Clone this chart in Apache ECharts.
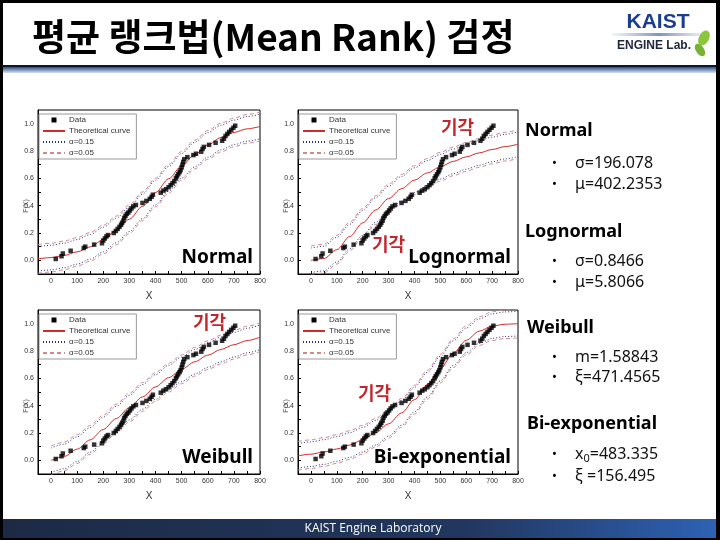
<!DOCTYPE html>
<html><head><meta charset="utf-8">
<script src="https://cdn.jsdelivr.net/npm/echarts@6/dist/echarts.min.js"></script>
<style>html,body{margin:0;padding:0;background:#fff}#c{width:720px;height:540px}</style>
</head><body><div id="c"></div><script>
// ---------------- data ----------------
const xGrid = [-50,0,50,100,150,200,250,300,350,400,450,500,550,600,650,700,750,800];

const dataX = [18,40,45,75,125,131,165,195,200,206,212,218,240,248,255,262,268,272,277,280,285,290,296,302,308,315,325,350,365,378,385,390,420,430,440,450,458,465,472,478,482,487,492,496,500,503,506,510,522,545,555,575,580,585,605,630,655,662,668,675,682,690,698,705];
const dataY = [0.010,0.030,0.050,0.070,0.090,0.100,0.115,0.125,0.145,0.160,0.175,0.185,0.200,0.215,0.230,0.245,0.260,0.275,0.290,0.310,0.325,0.340,0.350,0.365,0.380,0.395,0.405,0.420,0.435,0.450,0.465,0.480,0.495,0.510,0.520,0.535,0.550,0.565,0.580,0.600,0.615,0.630,0.645,0.660,0.680,0.700,0.720,0.740,0.755,0.770,0.780,0.795,0.815,0.830,0.845,0.860,0.875,0.890,0.910,0.925,0.940,0.955,0.970,0.985];

const normalCurve = [0.011,0.020,0.036,0.062,0.099,0.152,0.219,0.301,0.395,0.496,0.596,0.691,0.774,0.844,0.898,0.936,0.962,0.979];
const normalUp15  = [0.101,0.110,0.126,0.152,0.189,0.242,0.309,0.391,0.485,0.586,0.686,0.781,0.864,0.934,0.988,1.026,1.052,1.069];
const normalLo15  = [-0.079,-0.070,-0.054,-0.028,0.009,0.062,0.129,0.211,0.305,0.406,0.506,0.601,0.684,0.754,0.808,0.846,0.872,0.889];
const normalUp05  = [0.116,0.125,0.141,0.167,0.204,0.257,0.324,0.406,0.500,0.601,0.701,0.796,0.879,0.949,1.003,1.041,1.067,1.084];
const normalLo05  = [-0.094,-0.085,-0.069,-0.043,-0.006,0.047,0.114,0.196,0.290,0.391,0.491,0.586,0.669,0.739,0.793,0.831,0.857,0.874];

const lognCurve = [null,0.000,0.013,0.078,0.174,0.274,0.368,0.452,0.524,0.587,0.640,0.685,0.724,0.757,0.786,0.811,0.832,0.850];
const lognUp15  = [null,0.090,0.103,0.168,0.264,0.364,0.458,0.542,0.614,0.677,0.730,0.775,0.814,0.847,0.876,0.901,0.922,0.940];
const lognLo15  = [null,-0.090,-0.077,-0.012,0.084,0.184,0.278,0.362,0.434,0.497,0.550,0.595,0.634,0.667,0.696,0.721,0.742,0.760];
const lognUp05  = [null,0.105,0.118,0.183,0.279,0.379,0.473,0.557,0.629,0.692,0.745,0.790,0.829,0.862,0.891,0.916,0.937,0.955];
const lognLo05  = [null,-0.105,-0.092,-0.027,0.069,0.169,0.263,0.347,0.419,0.482,0.535,0.580,0.619,0.652,0.681,0.706,0.727,0.745];

const weibCurve = [null,0.000,0.028,0.082,0.150,0.226,0.306,0.386,0.464,0.537,0.605,0.666,0.721,0.769,0.811,0.846,0.876,0.901];
const weibUp15  = [null,0.090,0.118,0.172,0.240,0.316,0.396,0.476,0.554,0.627,0.695,0.756,0.811,0.859,0.901,0.936,0.966,0.991];
const weibLo15  = [null,-0.090,-0.062,-0.008,0.060,0.136,0.216,0.296,0.374,0.447,0.515,0.576,0.631,0.679,0.721,0.756,0.786,0.811];
const weibUp05  = [null,0.105,0.133,0.187,0.255,0.331,0.411,0.491,0.569,0.642,0.710,0.771,0.826,0.874,0.916,0.951,0.981,1.006];
const weibLo05  = [null,-0.105,-0.077,-0.023,0.045,0.121,0.201,0.281,0.359,0.432,0.500,0.561,0.616,0.664,0.706,0.741,0.771,0.796];

const biexCurve = [0.033,0.045,0.061,0.083,0.112,0.151,0.202,0.267,0.347,0.444,0.554,0.671,0.784,0.878,0.945,0.982,0.996,1.000];
const biexUp15  = [0.123,0.135,0.151,0.173,0.202,0.241,0.292,0.357,0.437,0.534,0.644,0.761,0.874,0.968,1.035,1.072,1.086,1.090];
const biexLo15  = [-0.057,-0.045,-0.029,-0.007,0.022,0.061,0.112,0.177,0.257,0.354,0.464,0.581,0.694,0.788,0.855,0.892,0.906,0.910];
const biexUp05  = [0.138,0.150,0.166,0.188,0.217,0.256,0.307,0.372,0.452,0.549,0.659,0.776,0.889,0.983,1.050,1.087,1.101,1.105];
const biexLo05  = [-0.072,-0.060,-0.044,-0.022,0.007,0.046,0.097,0.162,0.242,0.339,0.449,0.566,0.679,0.773,0.840,0.877,0.891,0.895];

const xTickLabels = [0,100,200,300,400,500,600,700,800];
const xMinorTicks = [0,50,100,150,200,250,300,350,400,450,500,550,600,650,700,750,800];
const yTickLabels = [0,0.2,0.4,0.6,0.8,1.0];
const yMinorTicks = [0,0.1,0.2,0.3,0.4,0.5,0.6,0.7,0.8,0.9,1.0];
const seriesNames = ['Data','Theoretical curve','α=0.15','α=0.05'];
const plotLabels = ['Normal','Lognormal','Weibull','Bi-exponential'];

const curveSets = [
  [normalCurve, normalUp15, normalLo15, normalUp05, normalLo05],
  [lognCurve, lognUp15, lognLo15, lognUp05, lognLo05],
  [weibCurve, weibUp15, weibLo15, weibUp05, weibLo05],
  [biexCurve, biexUp15, biexLo15, biexUp05, biexLo05]
];

// ---------------- layout ----------------
const grids = [
  {left:38, top:110, width:222, height:164},
  {left:298, top:110, width:220, height:164},
  {left:38, top:310, width:222, height:164},
  {left:298, top:310, width:220, height:164}
];
const FONT_AX = '"Liberation Sans", Arial, sans-serif';
const zip = (xs, ys) => xs.map((x, i) => [x, ys[i]]);

const series = [];
const xAxes = [], yAxes = [], legends = [];
grids.forEach((g, i) => {
  xAxes.push({
    gridIndex:i, type:'value', min:-50, max:800,
    axisLine:{show:true, onZero:false, lineStyle:{color:'#000', width:1}},
    axisTick:{show:true, inside:true, length:3, customValues:xMinorTicks, lineStyle:{color:'#000'}},
    axisLabel:{customValues:xTickLabels, fontSize:7, color:'#333', margin:4, fontFamily:FONT_AX},
    splitLine:{show:false},
    name:'X', nameLocation:'middle', nameGap:17, nameMoveOverlap:false,
    nameTextStyle:{fontSize:10, color:'#333', fontFamily:FONT_AX}
  });
  yAxes.push({
    gridIndex:i, type:'value', min:-0.1, max:1.1,
    axisLine:{show:true, onZero:false, lineStyle:{color:'#000', width:1}},
    axisTick:{show:true, inside:true, length:3, customValues:yMinorTicks, lineStyle:{color:'#000'}},
    axisLabel:{customValues:yTickLabels, fontSize:7, color:'#333', margin:4, fontFamily:FONT_AX,
      formatter:v => v.toFixed(1)},
    splitLine:{show:false},
    name:'F(X)', nameLocation:'middle', nameGap:8, nameRotate:90, nameMoveOverlap:false,
    nameTextStyle:{fontSize:7, color:'#555', fontFamily:FONT_AX, padding:[0,28,0,0]}
  });
  legends.push({
    data:[{name:'Data', icon:'path://M0,0L10,0L10,10L0,10Z', itemStyle:{opacity:1}},
          'Theoretical curve', 'α=0.15', 'α=0.05'],
    orient:'vertical', left:g.left + 1, top:g.top + 4,
    itemWidth:22, itemHeight:5, itemGap:3, symbolKeepAspect:true,
    itemStyle:{opacity:0},
    padding:[2,6,2,3], borderColor:'#9a9a9a', borderWidth:1, backgroundColor:'#fff',
    textStyle:{fontSize:8, color:'#333', fontFamily:FONT_AX, padding:[0,0,0,-1]},
    selectedMode:false
  });
  const cs = curveSets[i];
  const lineBase = {type:'line', xAxisIndex:i, yAxisIndex:i, symbol:'none', showSymbol:false,
    smooth:0.3, smoothMonotone:'x', connectNulls:false, clip:true, silent:true};
  series.push(Object.assign({}, lineBase, {name:'α=0.15', data:zip(xGrid, cs[1]),
    lineStyle:{color:'#2e2e80', width:1, type:[1,2]}, itemStyle:{color:'#2e2e80'}, z:2}));
  series.push(Object.assign({}, lineBase, {name:'α=0.15', data:zip(xGrid, cs[2]),
    lineStyle:{color:'#2e2e80', width:1, type:[1,2]}, itemStyle:{color:'#2e2e80'}, z:2}));
  series.push(Object.assign({}, lineBase, {name:'α=0.05', data:zip(xGrid, cs[3]),
    lineStyle:{color:'#cf8a8a', width:1, type:[4,3]}, itemStyle:{color:'#cf8a8a'}, z:2}));
  series.push(Object.assign({}, lineBase, {name:'α=0.05', data:zip(xGrid, cs[4]),
    lineStyle:{color:'#cf8a8a', width:1, type:[4,3]}, itemStyle:{color:'#cf8a8a'}, z:2}));
  series.push(Object.assign({}, lineBase, {name:'Theoretical curve', data:zip(xGrid, cs[0]),
    lineStyle:{color:'#d22a2a', width:1}, itemStyle:{color:'#d22a2a'}, z:3}));
  series.push({type:'scatter', name:'Data', xAxisIndex:i, yAxisIndex:i, data:zip(dataX, dataY),
    symbol:'rect', symbolSize:4.5, itemStyle:{color:'#000'}, z:5, silent:true});
});

// ---------------- slide decorations ----------------
function txt(text, x, y, font, fill, align, extra) {
  return {type:'text', x:x, y:y, z:100,
    style:Object.assign({text:text, font:font, fill:fill, align:align || 'left', verticalAlign:'middle',
      textAlign:align || 'left', textVerticalAlign:'middle'}, (extra || {}))};
}
const KR = '"Noto Sans CJK KR", "Noto Sans", sans-serif';
const SANS = '"Noto Sans", "Open Sans", sans-serif';
const NARROW = '"Liberation Sans Narrow", "Liberation Sans", sans-serif';
const graphics = [
  // black frame
  {type:'rect', shape:{x:0, y:0, width:720, height:3}, style:{fill:'#000'}, z:200},
  {type:'rect', shape:{x:0, y:0, width:3, height:540}, style:{fill:'#000'}, z:200},
  {type:'rect', shape:{x:716, y:0, width:4, height:540}, style:{fill:'#000'}, z:200},
  {type:'rect', shape:{x:0, y:538, width:720, height:2}, style:{fill:'#000'}, z:200},
  // header divider
  {type:'rect', shape:{x:3, y:65, width:713, height:2}, style:{fill:'#0b1633'}, z:50},
  {type:'rect', shape:{x:3, y:67, width:713, height:6}, z:50,
    style:{fill:{type:'linear', x:0, y:0, x2:0, y2:1, colorStops:[{offset:0, color:'#2c4f86'},{offset:1, color:'#d6e0ef'}]}}},
  // title
  txt('평균 랭크법(Mean Rank) 검정', 32, 37, 'bold 37px ' + KR, '#000'),
  // logo
  txt('KAIST', 658, 22, 'bold 21px ' + NARROW, '#1b3d8f', 'center'),
  {type:'rect', shape:{x:612, y:33, width:94, height:3}, z:50,
    style:{fill:{type:'linear', x:0, y:0, x2:1, y2:0, colorStops:[{offset:0, color:'rgba(140,160,200,0.1)'},{offset:0.5, color:'#7d93c0'},{offset:1, color:'rgba(140,160,200,0.1)'}]}}},
  txt('ENGINE Lab.', 654, 46, 'bold 12px ' + NARROW, '#1d2540', 'center'),
  {type:'ellipse', shape:{cx:704, cy:38, rx:5, ry:8}, rotation:-0.5, originX:704, originY:38, style:{fill:'#8cc63e'}, z:60},
  {type:'ellipse', shape:{cx:700, cy:50, rx:4, ry:7}, rotation:0.6, originX:700, originY:50, style:{fill:'#76b332'}, z:60},
  // plot overlay labels
  txt(plotLabels[0], 253, 258, 'bold 19px ' + SANS, '#000', 'right'),
  txt(plotLabels[1], 511, 258, 'bold 19px ' + SANS, '#000', 'right'),
  txt(plotLabels[2], 253, 458, 'bold 19px ' + SANS, '#000', 'right'),
  txt(plotLabels[3], 511, 458, 'bold 19px ' + SANS, '#000', 'right'),
  txt('기각', 441, 127, 'bold 18px ' + KR, '#c1272d'),
  txt('기각', 372, 244, 'bold 18px ' + KR, '#c1272d'),
  txt('기각', 193, 322, 'bold 18px ' + KR, '#c1272d'),
  txt('기각', 358, 393, 'bold 18px ' + KR, '#c1272d'),
  // right parameter panel
  txt('Normal', 525, 131, 'bold 18px ' + SANS, '#000'),
  txt('•', 552, 163, '13px ' + SANS, '#000'), txt('σ=196.078', 575, 163, '16px ' + SANS, '#111'),
  txt('•', 552, 184, '13px ' + SANS, '#000'), txt('μ=402.2353', 575, 184, '16px ' + SANS, '#111'),
  txt('Lognormal', 525, 232, 'bold 18px ' + SANS, '#000'),
  txt('•', 552, 261, '13px ' + SANS, '#000'), txt('σ=0.8466', 575, 261, '16px ' + SANS, '#111'),
  txt('•', 552, 282, '13px ' + SANS, '#000'), txt('μ=5.8066', 575, 282, '16px ' + SANS, '#111'),
  txt('Weibull', 527, 328, 'bold 18px ' + SANS, '#000'),
  txt('•', 552, 357, '13px ' + SANS, '#000'), txt('m=1.58843', 575, 357, '16px ' + SANS, '#111'),
  txt('•', 552, 377, '13px ' + SANS, '#000'), txt('ξ=471.4565', 575, 377, '16px ' + SANS, '#111'),
  txt('Bi-exponential', 527, 424, 'bold 18px ' + SANS, '#000'),
  txt('•', 552, 454, '13px ' + SANS, '#000'),
  {type:'text', x:575, y:454, z:100, style:{text:'{a|x}{s|0}{a|=483.335}', verticalAlign:'middle', textVerticalAlign:'middle',
    rich:{a:{font:'16px ' + SANS, fill:'#111', color:'#111'}, s:{font:'11px ' + SANS, fill:'#111', color:'#111', padding:[9,0,0,0]}}}},
  txt('•', 552, 476, '13px ' + SANS, '#000'), txt('ξ =156.495', 575, 476, '16px ' + SANS, '#111'),
  // footer
  {type:'rect', shape:{x:3, y:519, width:713, height:19}, z:50,
    style:{fill:{type:'linear', x:0, y:0, x2:1, y2:0, colorStops:[{offset:0, color:'#1c2a45'},{offset:0.65, color:'#22375f'},{offset:1, color:'#2d62b4'}]}}},
  txt('KAIST Engine Laboratory', 373, 529, '12px "Open Sans", "Noto Sans", sans-serif', '#fff', 'center')
];

const chart = echarts.init(document.getElementById('c'), null, {renderer:'canvas'});
chart.setOption({
  backgroundColor:'#fff',
  animation:false,
  grid:grids.map(g => Object.assign({show:true, borderColor:'#000', borderWidth:1, backgroundColor:'transparent', containLabel:false}, g)),
  xAxis:xAxes,
  yAxis:yAxes,
  legend:legends,
  series:series,
  graphic:{elements:graphics}
});
</script></body></html>
